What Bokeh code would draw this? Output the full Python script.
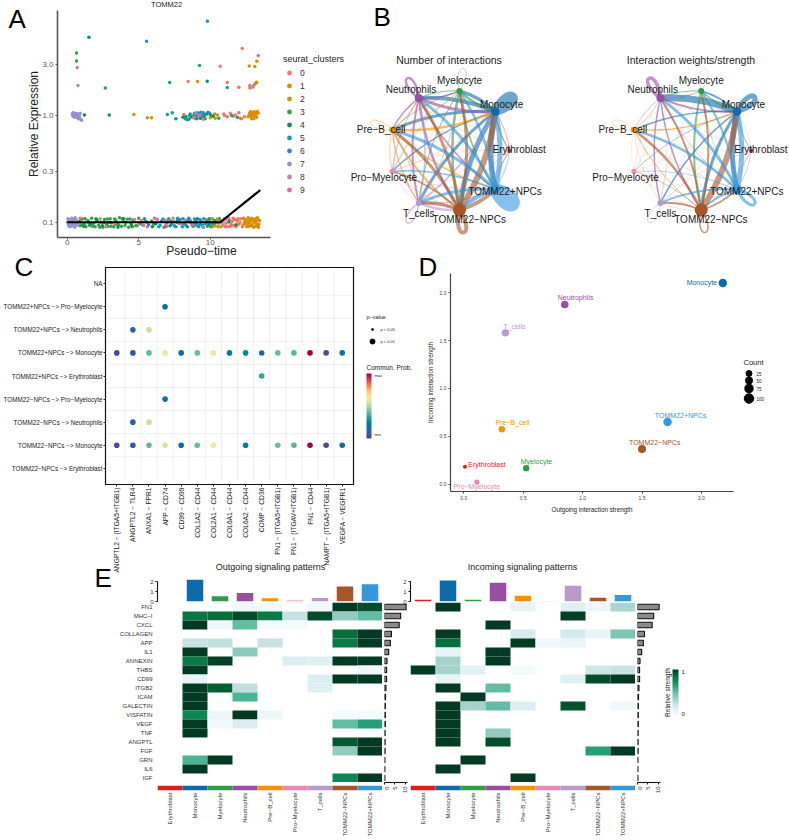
from math import pi, cos, sin
import numpy as np
from bokeh.embed import file_html
from bokeh.resources import INLINE
from bokeh.plotting import figure
from bokeh.core.properties import value
from bokeh.models import (ColumnDataSource, FactorRange, Range1d, FixedTicker, Legend, LegendItem,
                          LinearColorMapper, ColorBar, NumeralTickFormatter)

FONT = "Liberation Sans"
MINUS = "\u2212"

# ---------- shared cell-type data ----------
cell_types = ["Erythroblast", "Monocyte", "Myelocyte", "Neutrophils", "Pre\u2212B_cell",
              "Pro\u2212Myelocyte", "T_cells", "TOMM22\u2212NPCs", "TOMM22+NPCs"]
cell_colors = ["#E41A1C", "#0D6AAB", "#2E9E46", "#984EA3", "#F29403", "#EE86B4", "#B99ACB", "#A65628", "#3398DC"]
outgoing_strength = [0.01, 2.18, 0.525, 0.85, 0.32, 0.11, 0.35, 1.50, 1.715]
incoming_strength = [0.185, 2.10, 0.17, 1.875, 0.575, 0.025, 1.58, 0.37, 0.65]
cell_counts = [5, 100, 55, 80, 55, 30, 75, 90, 100]

# ---------- panel A ----------
cluster_colors = ["#F8766D", "#E08B00", "#C99800", "#2FA24A", "#0C8F5C", "#11A0A0", "#1E90D0", "#9590D0", "#C77CB0", "#F0689A"]
point_c0 = [(.6,.098),(.95,.106),(1.6,.093),(2.3,.108),(3.3,.095),(5.2,.104),(5.6,.091),(6.3,.106),(6.9,.095),(7.4,.109),
            (8.0,.097),(8.6,.105),(9.0,.093),(10.7,.104),(10.9,.094),(11.0,.108),(11.1,.098),(11.2,.091),(11.35,.105),(11.45,.097),
            (11.6,.109),(11.7,.093),(11.9,.103),(12.0,.096),(12.15,.108),(12.25,.091),(12.4,.101),(12.55,.094),
            (10.8,.099),(11.05,.091),(11.28,.11),(11.55,.102),(11.82,.091),(12.08,.1),(12.32,.109),(6.0,.1),(7.05,.105),(8.35,.101),
            (8.46,2.08),(10.7,2.89),(11.19,2.03),(12.0,1.84),(12.24,4.23),
            (8.15,1.02),(8.75,.95),(10.95,1.03),(11.2,.97),(11.4,1.05),(11.6,.98),(11.75,1.01),(12.1,.94),(12.4,.97)]
point_c1 = [(10.2,.092),(10.5,.107),(11.5,.094),(11.95,.108),(12.3,.095),(12.45,.106),(12.55,.091),(12.65,.11),(12.75,.099),(12.85,.093),
            (12.95,.105),(13.05,.09),(13.15,.108),(13.25,.097),(13.35,.092),(13.45,.104),(12.5,.1),(12.7,.092),(12.9,.109),(13.1,.101),
            (13.3,.11),(13.4,.096),(6.75,.09),(4.9,.093),(9.7,.106),
            (12.4,.098),(12.6,.096),(12.8,.104),(13.0,.098),(13.2,.102),(13.38,.09),(12.35,.109),(12.72,.107),(12.98,.092),(13.28,.106),
            (9.11,2.08),(12.73,2.91),(13.26,3.22),(13.19,2.0),(12.77,1.81),
            (9.6,1.0),(10.0,.95),(10.3,1.03),(12.75,1.04),(12.85,.98),(12.95,1.07),(13.05,.93),(13.15,1.02),(13.25,.96),(13.35,1.05),(12.65,.97),(13.0,1.01),(13.3,1.09),
            (12.8,1.08),(13.1,.97),(12.9,1.03),(13.2,1.06)]
point_c2 = [(10.0,.095),(10.15,.108),(10.35,.093),(10.45,.104),(10.6,.098),(10.75,.091),(12.6,.102),(12.8,.095),(13.0,.106),(13.2,.092),
            (10.25,.1),(10.55,.091),(9.95,.108),
            (13.12,2.87),(13.1,1.95),(13.24,2.05),(4.66,1.02),(5.6,.95),(5.9,.95),
            (9.1,.98),(9.4,.95),(9.85,1.06),(10.1,.99),(10.35,.94),(10.5,1.01),(12.2,.93),(12.7,1.0),(12.9,.93),(13.1,1.08),(13.2,.98)]
point_c3 = [(.75,.1),(.9,.093),(1.05,.107),(1.2,.097),(1.3,.091),(1.45,.104),(1.55,.094),(1.7,.109),(1.85,.098),(1.95,.091),
            (2.1,.103),(2.2,.094),(2.35,.1),(2.5,.09),(2.6,.106),(2.75,.096),(2.85,.092),(3.0,.108),(3.1,.099),(3.25,.091),
            (3.4,.104),(3.5,.095),(3.65,.11),(3.8,.092),(3.9,.101),(4.05,.094),(4.2,.107),(4.3,.09),(4.45,.098),(4.6,.105),
            (4.8,.093),(5.0,.109),(5.3,.094),(5.9,.103),(6.05,.096),
            (1.0,.095),(1.25,.108),(1.5,.099),(1.78,.092),(2.0,.108),(2.28,.09),(2.55,.099),(2.8,.107),(3.05,.092),(3.32,.107),
            (3.6,.095),(3.85,.108),(4.1,.1),(4.38,.107),(4.55,.091),(10.4,.099),(10.65,.108),(10.05,.091),
            (.65,3.85),(.65,3.24),(2.66,1.81),(11.5,1.0),(11.9,.96)]
point_c4 = [(.85,.101),(1.15,.092),(1.65,.097),(2.05,.106),(2.45,.093),(2.95,.1),(3.55,.09),(3.95,.108),(4.5,.094),(5.5,.102),
            (5.95,.091),(6.2,.097),(7.2,.093),(7.7,.105),(8.4,.091),(9.1,.108),(9.9,.095),(11.3,.101),(11.8,.095),
            (1.52,5.4),(9.79,2.09),(1.2,1.01),(2.94,1.01),(7.6,.93),(8.3,.97),(8.5,.92),(8.8,.99),(9.3,.94),(9.75,1.03),
            (8.1,.96),(8.65,.97),(9.05,.93),(9.55,.98),(10.0,1.02),(10.2,.98)]
point_c5 = [(7.0,.1),(7.5,.093),(7.9,.106),(8.2,.096),(8.5,.109),(8.8,.092),(9.0,.103),(9.3,.096),(9.55,.108),(9.8,.092),
            (10.05,.1),(10.3,.104),(6.5,.094),(6.7,.107),
            (7.25,.102),(7.65,.1),(8.05,.091),(8.65,.1),(8.95,.097),(9.2,.091),(9.45,.094),(9.7,.099),(9.92,.108),(10.2,.097),
            (7.16,2.03),(9.25,2.93),(11.19,1.83),
            (7.0,1.02),(7.35,1.06),(8.4,.91),(8.6,1.03),(8.95,.94),(9.2,1.04),(9.45,1.0),(9.65,.93),(9.95,1.05),(10.6,.94),
            (8.25,.93),(8.55,1.0),(9.0,1.0),(9.5,1.06)]
point_c6 = [(5.1,.097),(5.4,.108),(5.7,.095),(6.4,.091),(6.6,.103),(7.1,.108),(7.3,.096),(7.6,.091),(7.85,.098),(8.1,.108),
            (8.3,.094),(8.6,.1),(8.9,.107),(9.15,.093),(9.4,.101),(9.65,.097),(9.9,.104),
            (6.85,.091),(7.45,.101),(7.72,.109),(8.45,.104),(8.75,.098),(9.05,.099),(9.28,.106),(9.52,.09),(9.78,.102),
            (5.55,4.95),(9.8,7.6),
            (8.9,1.05),(9.1,1.06),(9.35,1.07),(9.55,1.05),(9.85,1.07)]
point_c7 = [(.02,.1),(.08,.094),(.12,.106),(.18,.091),(.22,.103),(.28,.097),(.32,.109),(.38,.093),(.42,.1),(.48,.106),
            (.52,.09),(.58,.097),(.62,.105),(.68,.094),(.05,.108),(.15,.098),(.25,.092),(.35,.104),(.45,.096),(.55,.11),
            (.35,1.03),(.4,.98),(.42,1.06),(.48,1.02),(.5,.96),(.55,1.05),(.58,1.0),(.62,.97),(.68,1.04),(.72,.95),
            (.75,1.0),(.8,.93),(.85,.98),(.9,1.05),(.95,.92),(1.0,.9),(.75,1.91),(13.0,1.88)]
point_c8 = [(5.0,.1),(5.35,.094),(6.25,.107),(7.0,.092),(7.8,.098),(8.25,.105),(9.5,.091),(10.9,.101),(11.1,.106),
            (12.77,1.91),(12.98,1.84),(8.85,.96),(9.0,1.05),(9.25,1.0),(9.5,.92)]
point_c9 = [(.9,.109),(2.7,.091),(4.7,.106),(5.55,.1),(6.1,.109),(6.85,.104),(8.7,.095),(11.4,.092),(11.75,.106),
            (.7,2.81),(13.36,3.64),(11.0,1.0),(12.0,1.06)]
cluster_points = [point_c0, point_c1, point_c2, point_c3, point_c4, point_c5, point_c6, point_c7, point_c8, point_c9]
trend_time = [0.0, 10.7, 13.5]
trend_expr = [0.1, 0.1, 0.2]

# ---------- panel B ----------
vertex_diam = [4, 8.5, 6, 8, 6, 5, 6, 13, 10]
count_widths = [[0, .6, .2, .2, .2, .2, .2, .3, .5],
                [1, 9, 3.5, 4, 3, 1.5, 3, 5, 5.5],
                [.2, 2.5, .6, 1.2, .8, .6, 1, 2.5, 1.5],
                [.3, 3, 1.5, 2.5, 1.5, .7, 2, 2.5, 1.5],
                [.2, 2.5, .8, 1, .7, .7, 1.2, 2, 1.5],
                [.2, .6, .4, .5, .5, .3, .5, .8, .7],
                [.3, 2, 1, 1.5, 1, .8, 1.5, 2.5, 1.5],
                [.6, 6, 3, 3, 3, 1.5, 3.5, 4, 4],
                [.8, 5, 2.5, 3, 3, 1.5, 3, 4, 13]]
weight_widths = [[0, .2, .2, .2, .2, .1, .2, .2, .2],
                 [.6, 5, 1.8, 7, 1.5, .6, 1.5, 3, 5],
                 [.2, 1.5, .3, 1, .3, .2, .3, 2, .5],
                 [.2, 2, .6, 3.5, .6, .2, 1.5, 1.5, .5],
                 [.2, 1.2, .3, .5, .5, .2, .4, 1, .4],
                 [.1, .2, .1, .2, .1, .1, .2, .4, .2],
                 [.1, .5, .2, .4, .2, .1, .8, .5, .3],
                 [.5, 6, 2, 2, 2.5, .6, 2, 1.5, 2],
                 [.6, 5, 2, 3, 2.5, .6, 2, 2, 3]]
net_label_dx = [9.7, 6.3, 0, -7.7, -11, -8.3, 0, 9.7, 9.7]
net_label_dy = [-1, -7, -10.7, -8.3, 0, 6.7, 10.3, 9.3, 2]

# ---------- panel C ----------
lr_pairs = [f"ANGPTL2 {MINUS} (ITGA5+ITGB1)", f"ANGPTL2 {MINUS} TLR4", f"ANXA1 {MINUS} FPR1", f"APP {MINUS} CD74",
            f"CD99 {MINUS} CD99", f"COL1A2 {MINUS} CD44", f"COL2A1 {MINUS} CD44", f"COL6A1 {MINUS} CD44",
            f"COL6A2 {MINUS} CD44", f"COMP {MINUS} CD36", f"FN1 {MINUS} (ITGA5+ITGB1)", f"FN1 {MINUS} (ITGAV+ITGB1)",
            f"FN1 {MINUS} CD44", f"NAMPT {MINUS} (ITGA5+ITGB1)", f"VEGFA {MINUS} VEGFR1"]
pair_rows = [f"TOMM22{MINUS}NPCs {MINUS}> Erythroblast", f"TOMM22{MINUS}NPCs {MINUS}> Monocyte",
             f"TOMM22{MINUS}NPCs {MINUS}> Neutrophils", f"TOMM22{MINUS}NPCs {MINUS}> Pro{MINUS}Myelocyte",
             f"TOMM22+NPCs {MINUS}> Erythroblast", f"TOMM22+NPCs {MINUS}> Monocyte",
             f"TOMM22+NPCs {MINUS}> Neutrophils", f"TOMM22+NPCs {MINUS}> Pro{MINUS}Myelocyte", "NA"]
dot_row = [7, 6, 6] + [5] * 15 + [4, 3, 2, 2] + [1] * 13
dot_lr = [3, 1, 2] + list(range(15)) + [9, 3, 1, 2] + [0, 1, 2, 3, 4, 5, 6, 8, 10, 11, 12, 13, 14]
dot_prob = [.18, .1, .52,
            .03, .06, .4, .62, .18, .42, .62, .22, .27, .12, .42, .38, 1.0, .04, .18,
            .33, .18, .1, .52,
            .03, .05, .4, .55, .18, .42, .62, .22, .42, .38, 1.0, .03, .18]
prob_anchor_colors = ["#4A4598", "#2F5FA8", "#0A6E9E", "#0F8A8E", "#4CAF91", "#8CC7A1", "#D5E6A0", "#F7E8A0", "#F9C77A", "#F1834F", "#D83D50", "#9E0142"]

# ---------- panel D ----------
scatter_label_dx = [22, -21, 10.3, 10.7, 10.7, 0, 9, 12.7, 13]
scatter_label_dy = [-2, 0, -6.7, -6.7, -6.7, 4, -6.7, -6.7, -7]

# ---------- panel E ----------
pathways = ["FN1", "MHC\u2212I", "CXCL", "COLLAGEN", "APP", "IL1", "ANNEXIN", "THBS", "CD99", "ITGB2", "ICAM", "GALECTIN",
            "VISFATIN", "VEGF", "TNF", "ANGPTL", "FGF", "GRN", "IL6", "IGF"]
outgoing_heat = [[0, 0, 0, .05, .05, 0, .05, 1, .95],
                 [0, .82, .85, .95, .8, .25, .95, .4, .5],
                 [0, 1, .05, .5, .03, .03, 0, 0, 0],
                 [0, 0, 0, 0, 0, 0, 0, .85, 1],
                 [0, .25, .28, 0, .25, 0, 0, .8, 1],
                 [0, 1, 0, .42, 0, 0, 0, 0, 0],
                 [0, .8, .97, 0, 0, .17, .15, 1, 1],
                 [0, 1, 0, 0, 0, 0, 0, 0, .06],
                 [0, .1, 0, 0, 0, 0, .17, 1, 1],
                 [0, 1, .9, .28, 0, 0, .15, 0, 0],
                 [0, 1, 0, .55, 0, 0, 0, 0, 0],
                 [0, 1, 0, 0, 0, 0, 0, 0, 0],
                 [0, .75, .07, 1, .07, 0, 0, .03, .03],
                 [0, 1, .06, .17, 0, 0, 0, .5, .65],
                 [0, 1, 0, 0, 0, 0, 0, 0, 0],
                 [0, 0, 0, 0, 0, 0, 0, .92, 1],
                 [0, 0, 0, 0, 0, 0, 0, .4, 1],
                 [0, .55, 1, 0, 0, 0, 0, 0, 0],
                 [0, 1, 0, 0, 0, 0, 0, 0, 0],
                 [0, 0, 0, 0, 0, 0, 0, .75, 1]]
incoming_heat = [[0, 1, 0, 0, .1, 0, .15, .07, .33],
                 [0, 0, 0, 0, 0, 0, .98, 0, 0],
                 [0, 0, 0, 1, 0, 0, 0, 0, 0],
                 [0, 1, 0, 0, .18, 0, .2, .1, .45],
                 [0, .85, 0, 0, 1, .05, .08, 0, 0],
                 [0, .1, 0, 1, 0, 0, 0, 0, 0],
                 [0, .35, 0, 1, 0, 0, 0, 0, 0],
                 [1, .35, .13, 0, .02, 0, 0, .22, .25],
                 [0, .1, 0, 0, 0, 0, .15, .95, 1],
                 [0, 1, 0, .5, 0, 0, 0, 0, 0],
                 [0, 0, 1, 0, 0, 0, 0, 0, 0],
                 [0, 1, .35, .5, .17, 0, .93, 0, .05],
                 [0, 1, 0, 0, 0, 0, 0, 0, 0],
                 [0, 1, 0, 0, 0, 0, 0, 0, 0],
                 [0, 1, 0, .4, 0, 0, 0, 0, 0],
                 [0, 1, 0, .95, 0, 0, 0, 0, 0],
                 [0, 0, 0, 0, 0, 0, 0, .65, 1],
                 [0, 0, 1, 0, 0, 0, 0, 0, 0],
                 [0, 1, 0, 0, 0, 0, 0, 0, 0],
                 [0, 0, 0, 0, 1, 0, 0, 0, 0]]
pathway_totals = [10.3, 7.7, 7, 3.3, 2.8, 2, 1.2, 1, 1, .7, .5, .4, .4, .4, .3, .3, .3, .2, .2, .2]
heat_anchor_colors = ["#F7FCFD", "#E3F2F6", "#C8E3E2", "#9CCFC5", "#66BFA4", "#2CA580", "#0B8A55", "#056B38", "#033A24"]


def ramp(anchors, n=64):
    rgb = np.array([[int(c[i:i + 2], 16) for i in (1, 3, 5)] for c in anchors], float)
    pos = np.linspace(0, 1, len(anchors))
    t = np.linspace(0, 1, n)
    out = np.stack([np.interp(t, pos, rgb[:, k]) for k in range(3)], 1).round().astype(int)
    return ["#%02x%02x%02x" % tuple(int(c) for c in v) for v in out]


def fig(x0, y0, x1, y1, l=0, t=0, r=0, b=0, **kw):
    p = figure(width=x1 - x0 + l + r, height=y1 - y0 + t + b, output_backend="svg", toolbar_location=None,
               min_border_left=l, min_border_right=r, min_border_top=t, min_border_bottom=b,
               background_fill_color=None, border_fill_color=None, outline_line_color=None,
               styles={"position": "absolute", "left": f"{x0 - l}px", "top": f"{y0 - t}px"}, **kw)
    p.grid.visible = False
    return p


def style_axis(ax, size="7px", color="#4d4d4d", line="#444444", lw=1.0):
    ax.major_label_text_font = FONT
    ax.axis_label_text_font = FONT
    ax.major_label_text_font_size = size
    ax.major_label_text_color = color
    ax.axis_line_color = line
    ax.axis_line_width = lw
    ax.major_tick_line_color = line
    ax.major_tick_in = 0
    ax.major_tick_out = 2
    ax.minor_tick_line_color = None
    ax.axis_label_text_font_style = "normal"
    ax.major_label_standoff = 2


figs = []

# ---------- overlay: letters, titles, legends ----------
over = fig(0, 0, 789, 840, x_range=Range1d(0, 789), y_range=Range1d(840, 0), x_axis_location=None, y_axis_location=None)
figs.append(over)


def note(x, y, txt, size, align="left", color="#222222", angle=0):
    over.text(x=[x], y=[y], text=[txt], text_font=value(FONT), text_font_size=value(f"{size}px"),
              text_align=align, text_baseline="middle", text_color=color, angle=angle)


for letter, lx, ly in [("A", 8, 18), ("B", 373, 16), ("C", 14, 266), ("D", 418, 266), ("E", 94, 577)]:
    note(lx, ly, letter, 26, color="#000000")
note(166, 4, "TOMM22", 7.5, "center")
note(270, 566, "Outgoing signaling patterns", 9, "center")
note(522, 566, "Incoming signaling patterns", 9, "center")
# C legends
note(366, 316, "p\u2212value", 5.5)
over.scatter(x=[372], y=[329], size=2, color="black")
over.scatter(x=[372], y=[341], size=5, color="black")
note(380, 329, "p < 0.05", 4)
note(380, 341, "p < 0.01", 4)
note(366, 367, "Commun. Prob.", 6.5)
note(374, 375, "max", 4)
note(374, 434, "min", 4)
# D legend
note(743, 362, "Count", 7.5)
for yy, lab, cnt in [(373, "25", 25), (380, "50", 50), (388, "75", 75), (398, "100", 100)]:
    over.scatter(x=[748.5], y=[yy], size=3.8 + .047 * cnt + 1, color="black")
    note(756, yy, lab, 4.5)
# E legend
note(667, 692, "Relative strength", 6.5, "center", angle=pi / 2)
note(681, 671, "1", 6)
note(681, 713, "0", 6)

prob_mapper = LinearColorMapper(palette=ramp(prob_anchor_colors), low=0, high=1)
heat_mapper = LinearColorMapper(palette=ramp(heat_anchor_colors), low=0, high=1)
for mapper, bx, by, bw, bh in [(prob_mapper, 366, 373, 5, 65), (heat_mapper, 672, 669, 6, 46)]:
    cb = ColorBar(color_mapper=mapper, location=(bx, 840 - by - bh), width=bw, height=bh, margin=0, padding=0,
                  ticker=FixedTicker(ticks=[]), major_tick_line_color=None, major_label_text_font_size="0px",
                  background_fill_color=None, bar_line_color=None, border_line_color=None)
    over.add_layout(cb, "center")

# ---------- A ----------
# The frame runs on to x=345 so that the legend sits inside it; the axis line stops at 14.2.
pa = fig(57, 10, 345, 237, l=57, t=10, r=2, b=30, x_range=Range1d(-0.68, 19.46), y_range=Range1d(0.072, 9.6), y_axis_type="log")
rend = []
for i, pts in enumerate(cluster_points):
    xs, ys = zip(*pts)
    rend.append(pa.scatter(x=list(xs), y=list(ys), size=3.5, color=cluster_colors[i], line_color=None))
pa.line(trend_time, trend_expr, line_color="black", line_width=2.2)
for ax in (pa.xaxis[0], pa.yaxis[0]):
    style_axis(ax, "8px", "#5a5a5a", "#555555", 1.6)
    ax.axis_label_text_font_size = "12px"
    ax.axis_label_text_color = "#222222"
pa.xaxis[0].ticker = FixedTicker(ticks=[0, 5, 10])
pa.xaxis[0].bounds = (-0.68, 14.2)
pa.xaxis[0].axis_label = f"Pseudo{MINUS}time"
pa.xaxis[0].axis_label_standoff = -4
pa.xaxis[0].major_label_standoff = 0
pa.yaxis[0].ticker = FixedTicker(ticks=[.1, .3, 1, 3])
pa.yaxis[0].major_label_overrides = {.1: "0.1", .3: "0.3", 1: "1.0", 3: "3.0"}
pa.yaxis[0].axis_label = "Relative Expression"
pa.yaxis[0].axis_label_standoff = -2
legend = Legend(items=[LegendItem(label=str(i), renderers=[r]) for i, r in enumerate(rend)],
                title="seurat_clusters", location=(226, 41), orientation="vertical", margin=0, padding=0, spacing=0,
                glyph_width=12, glyph_height=13, label_height=13, label_standoff=5, title_standoff=2,
                background_fill_alpha=0, border_line_color=None,
                title_text_font=FONT, title_text_font_size="9px", title_text_font_style="normal", title_text_color="#222222",
                label_text_font=FONT, label_text_font_size="8.5px", label_text_color="#333333")
pa.add_layout(legend, "center")
figs.append(pa)

# ---------- B ----------
UNIT = 60.5
pb = fig(320, 45, 789, 245, x_range=Range1d((320 - 448.5) / UNIT, (789 - 448.5) / UNIT),
         y_range=Range1d((150 - 245) / UNIT, (150 - 45) / UNIT), x_axis_location=None, y_axis_location=None)
angles = [2 * pi * i / 9 for i in range(9)]


def network(shift, widths):
    vx = [cos(a) + shift for a in angles]
    vy = [sin(a) for a in angles]
    e = {k: [] for k in "x0 y0 x1 y1 cx cy w c".split()}
    lp = {k: [] for k in "x0 y0 x1 y1 cx0 cy0 cx1 cy1 w c".split()}
    for i in range(9):
        for j in range(9):
            w = widths[i][j]
            if w <= 0:
                continue
            if i == j:
                a = angles[i]
                for key, val in zip(("x0", "y0", "x1", "y1"), (vx[i], vy[i], vx[i], vy[i])):
                    lp[key].append(val)
                lp["cx0"].append(vx[i] + .55 * cos(a + .42)); lp["cy0"].append(vy[i] + .55 * sin(a + .42))
                lp["cx1"].append(vx[i] + .55 * cos(a - .42)); lp["cy1"].append(vy[i] + .55 * sin(a - .42))
                lp["w"].append(w); lp["c"].append(cell_colors[i])
            else:
                dx, dy = vx[j] - vx[i], vy[j] - vy[i]
                e["x0"].append(vx[i]); e["y0"].append(vy[i]); e["x1"].append(vx[j]); e["y1"].append(vy[j])
                e["cx"].append((vx[i] + vx[j]) / 2 + .12 * dy); e["cy"].append((vy[i] + vy[j]) / 2 - .12 * dx)
                e["w"].append(w); e["c"].append(cell_colors[i])
    pb.quadratic(x0="x0", y0="y0", x1="x1", y1="y1", cx="cx", cy="cy", line_width="w", line_color="c", line_alpha=.6,
                 source=ColumnDataSource(e))
    pb.bezier(x0="x0", y0="y0", x1="x1", y1="y1", cx0="cx0", cy0="cy0", cx1="cx1", cy1="cy1", line_width="w",
              line_color="c", line_alpha=.6, source=ColumnDataSource(lp))
    pb.scatter(x=vx, y=vy, size=vertex_diam, color=cell_colors, line_color=None)
    pb.text(x=vx, y=vy, text=cell_types, x_offset=net_label_dx, y_offset=net_label_dy, text_font=value(FONT),
            text_font_size=value("10px"), text_align="center", text_baseline="middle", text_color="#1a1a1a")


network(0, count_widths)
network(3.995, weight_widths)
pb.text(x=[0, 4.0], y=[1.49, 1.49], text=["Number of interactions", "Interaction weights/strength"], text_font=value(FONT),
        text_font_size=value("10.5px"), text_align="center", text_baseline="middle", text_color="#222222")
figs.append(pb)

# ---------- C ----------
pc = fig(102, 267, 353, 484, l=102, t=2, r=4, b=110,
         x_range=FactorRange(factors=lr_pairs, range_padding=.2, range_padding_units="absolute"),
         y_range=FactorRange(factors=pair_rows, range_padding=.2, range_padding_units="absolute"))
pc.outline_line_color = "#111111"
pc.outline_line_width = 1.2
grid_x = [float(v) for v in range(1, 15)]
grid_y = [float(v) for v in range(1, 9)]
pc.segment(x0=grid_x, x1=grid_x, y0=[-.1] * 14, y1=[9.1] * 14, line_color="#e6e6e6", line_width=.6)
pc.segment(x0=[-.1] * 8, x1=[15.1] * 8, y0=grid_y, y1=grid_y, line_color="#e6e6e6", line_width=.6)
pc.scatter(x="x", y="y", size=5.6, line_color=None, fill_color={"field": "p", "transform": prob_mapper},
           source=ColumnDataSource(dict(x=[lr_pairs[i] for i in dot_lr], y=[pair_rows[i] for i in dot_row], p=dot_prob)))
for ax in (pc.xaxis[0], pc.yaxis[0]):
    style_axis(ax, "6.3px", "#222222", None)
    ax.major_tick_line_color = "#222222"
    ax.major_label_standoff = 1
pc.xaxis[0].major_label_orientation = pi / 2
pc.xaxis[0].major_label_text_font_size = "6.7px"
figs.append(pc)

# ---------- D ----------
pd_ = fig(450, 273, 733, 491, l=40, t=2, r=4, b=30, x_range=Range1d(-.112, 2.27), y_range=Range1d(-.073, 2.198))
pd_.scatter(x=outgoing_strength, y=incoming_strength, size=[3.8 + .047 * c for c in cell_counts], color=cell_colors, line_color=None)
pd_.text(x=outgoing_strength, y=incoming_strength, text=cell_types, x_offset=scatter_label_dx, y_offset=scatter_label_dy,
         text_font=value(FONT), text_font_size=value("7px"), text_align="center", text_baseline="middle", text_color=cell_colors)
for ax in (pd_.xaxis[0], pd_.yaxis[0]):
    style_axis(ax, "5px", "#444444", "#444444", 1.2)
    ax.axis_label_text_font_size = "6.3px"
    ax.axis_label_text_color = "#222222"
    ax.axis_label_standoff = 3
    ax.ticker = FixedTicker(ticks=[0, .5, 1, 1.5, 2])
    ax.formatter = NumeralTickFormatter(format="0.0")
pd_.xaxis[0].axis_label = "Outgoing interaction strength"
pd_.yaxis[0].axis_label = "Incoming interaction strength"
figs.append(pd_)


# ---------- E ----------
def heat_block(x0, heat, strength, show_rows):
    x1 = x0 + 225
    # top bars
    top = fig(x0, 577, x1, 601, l=18, t=4, r=0, b=4, x_range=FactorRange(factors=cell_types), y_range=Range1d(0, 2.4),
              x_axis_location=None)
    top.vbar(x=cell_types, top=strength, width=.66, color=cell_colors, line_color=None)
    ay = top.yaxis[0]
    style_axis(ay, "6px", "#333333", "#111111", 1.1)
    ay.ticker = FixedTicker(ticks=[0, 1, 2])
    ay.bounds = (0, 2)
    figs.append(top)
    # heat cells
    hp = fig(x0, 602, x1, 782, l=60 if show_rows else 0, x_range=FactorRange(factors=cell_types),
             y_range=FactorRange(factors=pathways[::-1]), x_axis_location=None,
             y_axis_location="left" if show_rows else None)
    cx, cy, cv = [], [], []
    for r, row in enumerate(heat):
        for c, v in enumerate(row):
            if v > 0:
                cx.append(cell_types[c]); cy.append(pathways[r]); cv.append(v)
    hp.rect(x="x", y="y", width=1, height=1, line_color=None, fill_color={"field": "v", "transform": heat_mapper},
            source=ColumnDataSource(dict(x=cx, y=cy, v=cv)))
    if show_rows:
        ax = hp.yaxis[0]
        style_axis(ax, "6px", "#333333", None)
        ax.major_tick_line_color = None
        ax.major_label_standoff = 3
    figs.append(hp)
    # right bars
    rb = fig(x0 + 227, 602, x0 + 250, 782, t=0, r=3, b=20, x_range=Range1d(0, 10.96), y_range=FactorRange(factors=pathways[::-1]),
             y_axis_location=None)
    rb.hbar(y=pathways, right=pathway_totals, left=0, height=.62, fill_color="#8a8a8a", line_color="#111111", line_width=1.1)
    ab = rb.xaxis[0]
    style_axis(ab, "6px", "#333333", "#111111", 1.1)
    ab.ticker = FixedTicker(ticks=[0, 5, 10])
    ab.major_label_orientation = pi / 2
    figs.append(rb)
    # colour strip and names
    sp = fig(x0, 785, x1, 790, b=50, x_range=FactorRange(factors=cell_types), y_range=Range1d(0, 1), y_axis_location=None)
    sp.rect(x=cell_types, y=[.5] * 9, width=1, height=1, color=cell_colors, line_color=None)
    ax = sp.xaxis[0]
    style_axis(ax, "6px", "#333333", None)
    ax.axis_line_color = None
    ax.major_tick_line_color = None
    ax.major_tick_out = 0
    ax.major_label_orientation = pi / 2
    ax.major_label_standoff = 2
    figs.append(sp)


heat_block(157, outgoing_heat, outgoing_strength, True)
heat_block(410, incoming_heat, incoming_strength, False)

open("out.html", "w").write(file_html(figs, INLINE))
